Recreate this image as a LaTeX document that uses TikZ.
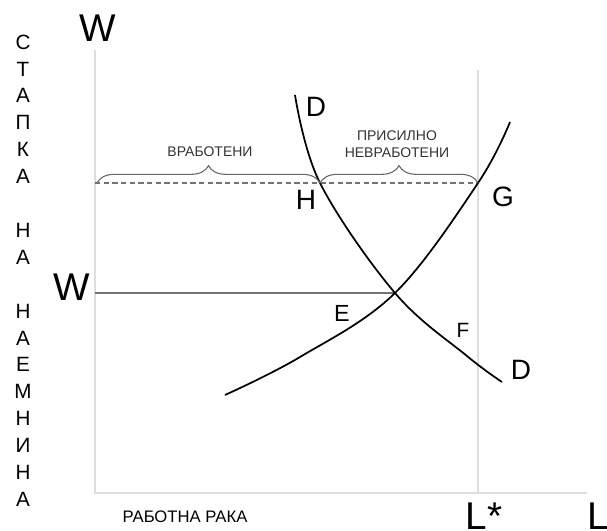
\documentclass[tikz,border=0pt]{standalone}
\usepackage{fontspec}
\setmainfont{Liberation Sans}
\usetikzlibrary{decorations.pathreplacing}

\tikzset{
  axisline/.style={draw=black!13, line width=0.9pt},
  curveline/.style={draw=black, line width=1.3pt},
  levelline/.style={draw=black!55, line width=0.9pt},
  grouping/.style={draw=black!60, line width=0.8pt,
    decorate, decoration={brace, amplitude=13pt, aspect=0.5}},
  biglabel/.style={font=\fontsize{29}{29}\selectfont},
  ptlabel/.style={font=\fontsize{21}{21}\selectfont},
  smalllabel/.style={font=\fontsize{10.5}{12.5}\selectfont, text=black!80},
}

\begin{document}
\begin{tikzpicture}[x=0.75pt, y=-0.75pt, every node/.style={inner sep=0pt, align=center}]
    \useasboundingbox (0,0) rectangle (607,531);

    % axes
    \coordinate (O) at (95,493);
    \coordinate (Wtop) at (95,50);
    \coordinate (Lend) at (587,493);
    \coordinate (Ltop) at (478,70);
    \coordinate (Lbot) at (478,493);
    \draw[axisline] (Wtop) -- (O) -- (Lend);
    \draw[axisline] (Ltop) -- (Lbot);

    % points
    \coordinate (H) at (320,183);
    \coordinate (G) at (478,183);
    \coordinate (E) at (395,293);
    \coordinate (Wmin) at (95,183);
    \coordinate (Weq) at (95,293);

    % minimum wage line and equilibrium wage
    \draw[levelline, dashed, dash pattern=on 4pt off 2.5pt] (Wmin) -- (G);
    \draw[levelline] (Weq) -- (E);

    % demand and supply curves
    \draw[curveline] plot[smooth, tension=0.6] coordinates {(295,95) (H) (E) (467,356) (502,382)};
    \draw[curveline] plot[smooth, tension=0.6] coordinates {(225,395) (300,357) (E) (G) (510,122)};

    % braces
    \draw[grouping] (97,183) -- (H);
    \draw[grouping] (H) -- (G);
    \node[smalllabel] (emp) at (210,152) {ВРАБОТЕНИ};
    \node[smalllabel] (unemp) at (397,144) {ПРИСИЛНО\\НЕВРАБОТЕНИ};

    % labels
    \node[biglabel] (wlab) at (98,28) {W};
    \node[biglabel] (weqlab) at (72,287) {W};
    \node[ptlabel] (dtop) at (316,107) {D};
    \node[ptlabel] (dbot) at (521,370) {D};
    \node[ptlabel] (hlab) at (306,200) {H};
    \node[ptlabel] (glab) at (503,197) {G};
    \node[font=\fontsize{17.5}{17.5}\selectfont] (elab) at (342,313) {E};
    \node[font=\fontsize{15.5}{15.5}\selectfont] (flab) at (463,330) {F};
    \node[font=\fontsize{12.5}{12.5}\selectfont] (lablab) at (185,517) {РАБОТНА РАКА};
    \node[biglabel, anchor=north] (lstar) at (484,503) {L*};
    \node[biglabel, anchor=north west] (llab) at (587,503) {L};

    % vertical axis title
    \foreach \ch [count=\i] in {С,Т,А,П,К,А,{},Н,А,{},Н,А,Е,М,Н,И,Н,А}
        \node[font=\fontsize{15.5}{15.5}\selectfont] (ax\i) at (23,{42+(\i-1)*26.9}) {\ch};
\end{tikzpicture}
\end{document}
